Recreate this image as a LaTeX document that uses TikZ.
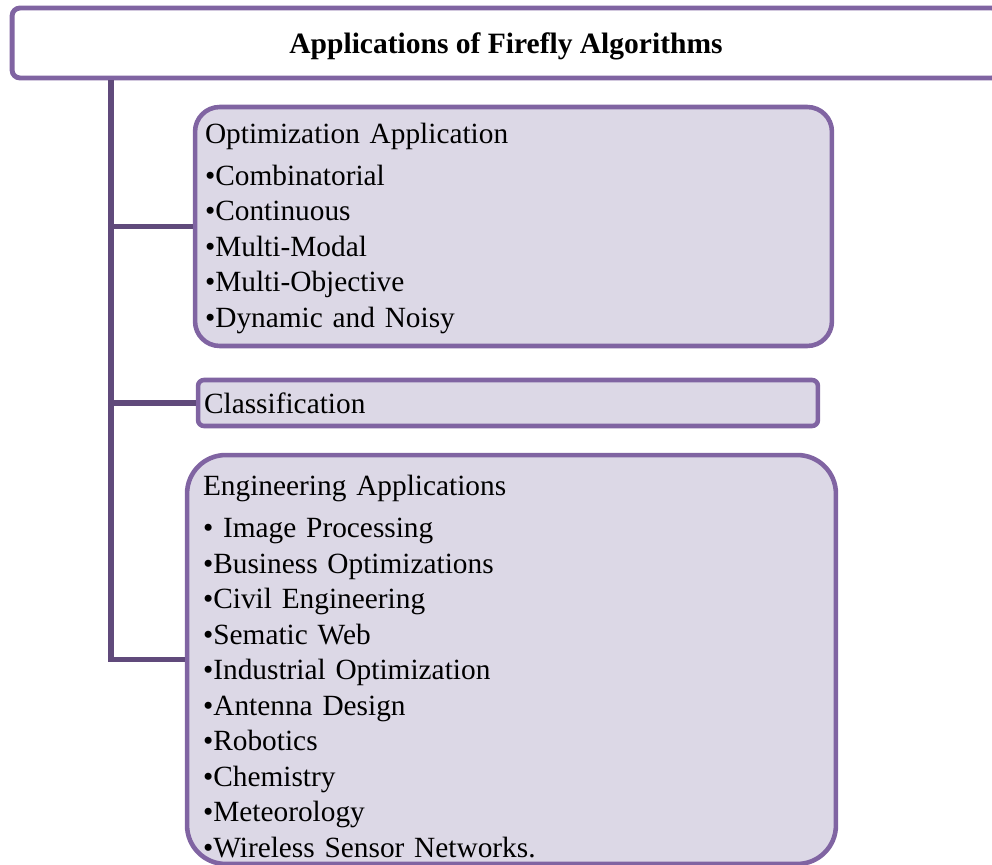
\documentclass[tikz,border=0pt]{standalone}
\usepackage{fontspec}
\setmainfont{Liberation Serif}
\usetikzlibrary{positioning,calc}
\definecolor{boxborder}{RGB}{128,100,162}
\definecolor{boxfill}{RGB}{220,216,230}
\definecolor{linkcol}{RGB}{96,74,123}

\begin{document}
\begin{tikzpicture}[x=0.02cm, y=-0.02cm,
  titlebox/.style = {shape=rectangle, rounded corners=4.5pt,
    draw=boxborder, line width=2.8pt, fill=white,
    text height=15.8pt, text depth=4pt,
    font=\fontsize{16.8}{20}\selectfont\bfseries},
  appbox/.style = {shape=rectangle, draw=boxborder, fill=boxfill,
    line width=2.6pt, align=left, inner xsep=0pt, inner ysep=0pt,
    font=\fontsize{16.7}{20.2}\selectfont},
  line/.style = {draw=linkcol, line width=3pt}
  ]
  \useasboundingbox (0,0) rectangle (992,865);
  \clip (0,0) rectangle (992,865);

  \node[titlebox, minimum width=19.76cm, minimum height=1.4cm] (title) at (506,43)
    {Applications of Firefly Algorithms};

  \node[appbox, rounded corners=14pt, minimum width=12.74cm, minimum height=4.78cm,
    text width=12.34cm] (optim) at (513.5,226.5)
    {\rule{0pt}{13.7pt}Optimization Application\\[3.7pt]
     •Combinatorial\\
     •Continuous\\
     •Multi-Modal\\
     •Multi-Objective\\
     •Dynamic and Noisy};

  \node[appbox, rounded corners=3.4pt, minimum width=12.4cm, minimum height=0.92cm,
    text width=12.16cm] (classif) at (508,403)
    {Classification};

  \node[appbox, rounded corners=22pt, minimum width=12.98cm, minimum height=8.18cm,
    text width=12.34cm] (engin) at (511.5,659.5)
    {\rule{0pt}{19.4pt}Engineering Applications\\[3.7pt]
     • Image Processing\\
     •Business Optimizations\\
     •Civil Engineering\\
     •Sematic Web\\
     •Industrial Optimization\\
     •Antenna Design\\
     •Robotics\\
     •Chemistry\\
     •Meteorology\\
     •Wireless Sensor Networks.};

  % trunk and branches
  \coordinate (trunk) at (111,0);
  \path[line] (title.south -| trunk) |- (engin.west);
  \path[line] (trunk |- optim.west) -- (optim.west);
  \path[line] (trunk |- classif.west) -- (classif.west);
\end{tikzpicture}
\end{document}
